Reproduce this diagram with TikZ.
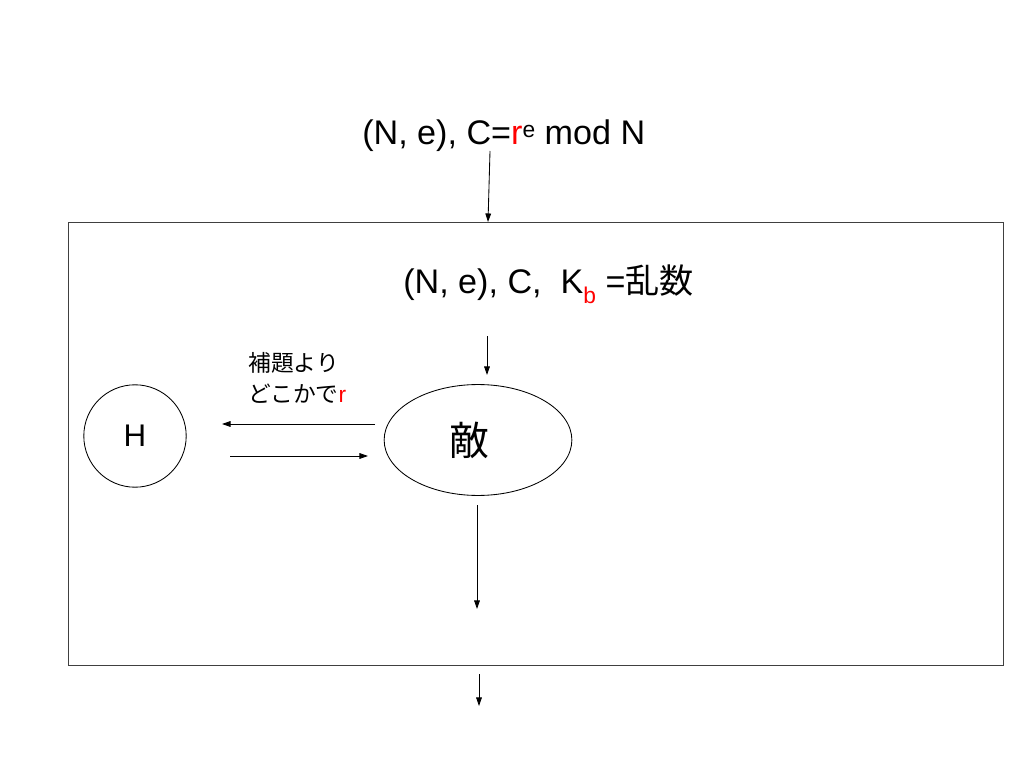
\documentclass[tikz,border=0pt]{standalone}
\usepackage{fontspec}
\setmainfont{Liberation Sans}
\newfontfamily\jp{Noto Sans CJK JP}
\usetikzlibrary{arrows.meta,positioning,shapes.geometric}

\begin{document}
\begin{tikzpicture}[x=0.703125pt, y=-0.703125pt,
        every node/.style={inner sep=0pt},
        arr/.style={-{Triangle[length=6pt,width=4pt]}, line width=0.6pt},
        big/.style={font=\fontsize{24}{28}\selectfont}]

  \useasboundingbox (0,0) rectangle (1024,768);
  \draw[line width=0.6pt, draw=black!75] (68,222) rectangle (1003,665);

  \node[big, anchor=base west] (given) at (362,145)
    {(N, e), C=\textcolor{red}{r}\raisebox{5.5pt}{\fontsize{16}{20}\selectfont e} mod N};
  \node[big, anchor=base west] (inner) at (403,294)
    {(N, e), C,\ \ K\raisebox{-6.5pt}{\fontsize{16}{20}\selectfont\textcolor{red}{b}} ={\jp 乱数}};

  \node[draw, circle, minimum size=72pt, line width=0.6pt,
        font=\fontsize{22}{26}\selectfont] (H) at (135,436) {H};
  \node[draw, ellipse, minimum width=132pt, minimum height=78pt, line width=0.6pt,
        font=\fontsize{28}{32}\jp] (enemy) at (478,440)
    {\raisebox{-3.5pt}{敵}\rule{12.6pt}{0pt}};

  \node[anchor=north west, align=left, font=\fontsize{16}{22}\selectfont]
    (lemma) at (248,352) {{\jp 補題より}\\{\jp どこかで}\textcolor{red}{r}};

  % arrow ends
  \coordinate (in1) at (490,151);
  \coordinate (in2) at (488,222);
  \coordinate (q1) at (487,336);
  \coordinate (q2) at (487,375);
  \coordinate (ask1) at (375,424);
  \coordinate (ask2) at (222,424);
  \coordinate (ans1) at (230,456);
  \coordinate (ans2) at (368,456);
  \coordinate (out1) at (477,505);
  \coordinate (out2) at (477,609);
  \coordinate (res1) at (479,674);
  \coordinate (res2) at (479,706);

  \draw[arr] (in1) -- (in2);
  \draw[arr] (q1) -- (q2);
  \draw[arr] (ask1) -- (ask2);
  \draw[arr] (ans1) -- (ans2);
  \draw[arr] (out1) -- (out2);
  \draw[arr] (res1) -- (res2);
\end{tikzpicture}
\end{document}
